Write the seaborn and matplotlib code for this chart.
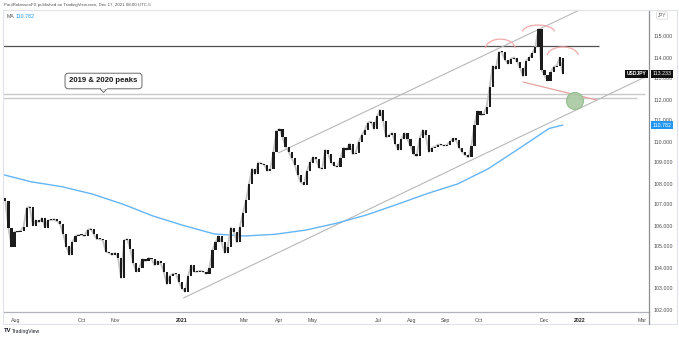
import numpy as np
import pandas as pd
import matplotlib
matplotlib.use("Agg")
import matplotlib.pyplot as plt
import seaborn as sns
from matplotlib.patches import Ellipse, Rectangle, Polygon
from matplotlib.lines import Line2D

# ---------------- data ----------------
start_date = "2020-07-20"
# closes of consecutive 2-trading-day candles (first candle = 3rd trading day)
closes = [
    107.15, 105.9, 105.0, 105.7, 105.7, 105.75, 105.95, 106.85, 106.9, 106.0,
    106.25, 106.15, 106.35, 105.9, 106.25, 106.25, 106.3, 106.2, 106.05, 105.6,
    105.0, 104.6, 105.2, 105.5, 105.55, 105.55, 105.5, 105.8, 105.85, 105.6,
    105.35, 105.35, 105.3, 104.75, 104.7, 104.6, 104.7, 104.45, 103.5, 105.3,
    105.35, 104.9, 104.2, 103.8, 104.0, 104.4, 104.3, 104.45, 104.4, 104.1,
    104.3, 104.2, 103.8, 103.2, 103.6, 103.7, 103.7, 103.3, 103.0, 102.85,
    103.6, 104.1, 103.8, 103.8, 103.85, 103.8, 103.7, 104.0, 104.85, 105.2,
    105.5, 105.2, 104.7, 105.0, 105.9, 105.7, 105.2, 105.95, 106.6, 107.2,
    108.0, 108.7, 108.45, 109.0, 108.95, 108.9, 108.6, 108.7, 109.5, 110.5,
    110.6, 110.2, 109.75, 109.5, 109.2, 108.9, 108.4, 108.05, 107.95, 108.6,
    109.0, 109.25, 109.15, 108.75, 108.7, 109.6, 109.4, 109.0, 108.85, 108.8,
    109.2, 109.7, 109.6, 109.9, 109.4, 109.45, 110.0, 110.3, 110.55, 110.9,
    110.95, 110.6, 111.2, 111.5, 111.0, 110.2, 110.3, 110.4, 109.9, 109.6,
    110.1, 110.4, 110.1, 109.8, 109.4, 109.3, 110.15, 110.55, 110.3, 109.5,
    109.7, 109.75, 109.85, 109.85, 109.8, 109.85, 110.0, 110.15, 110.05, 109.7,
    109.5, 109.35, 109.25, 109.8, 110.8, 111.45, 111.25, 111.3, 111.65, 112.6,
    113.6, 113.45, 114.25, 114.25, 113.9, 113.7, 113.95, 114.0, 113.8, 113.5,
    113.1, 113.85, 114.0, 114.2, 114.5, 115.35, 113.4, 113.15, 112.9, 113.3,
    113.55, 113.6, 114.0, 113.233,
]
first_open = 107.3

# 200-day moving average sampled every 20 trading days (last = final day)
ma_day = [0, 20, 40, 60, 80, 100, 120, 140, 160, 180, 200, 220, 240, 260,
          280, 300, 320, 340, 360, 369]
ma_values = [108.45, 108.08, 107.85, 107.5, 107.02, 106.45, 106.0, 105.6,
             105.5, 105.58, 105.78, 106.1, 106.5, 107.0, 107.52, 107.98,
             108.7, 109.65, 110.62, 110.782]

resistance_level = 114.55
resistance_end = "2022-01-20"
peak_levels = [112.25, 112.07]
peak_line_end = ["2022-03-03", "2022-02-24"]
# drawn lines: (date, price)
lower_channel = [("2021-01-04", 102.55), ("2022-03-03", 113.07)]
upper_channel = [("2021-03-31", 109.45), ("2022-03-03", 117.74)]
support_line = [("2021-11-11", 112.83), ("2022-01-18", 111.98)]
circle_pt = ("2021-12-29", 111.93)
# arcs: (centre date, centre price, width in days, height in price)
arcs = [("2021-10-21", 114.40, 19.7, 0.95),
        ("2021-11-25", 115.21, 21.0, 0.67),
        ("2021-12-17", 114.07, 20.4, 0.86)]

month_ticks = ["2020-08-01", "2020-10-01", "2020-11-01", "2021-01-01", "2021-03-01",
               "2021-04-01", "2021-05-01", "2021-07-01", "2021-08-01", "2021-09-01",
               "2021-10-01", "2021-12-01", "2022-01-01", "2022-03-01"]
month_labels = ["Aug", "Oct", "Nov", "2021", "Mar", "Apr", "May", "Jul", "Aug",
                "Sep", "Oct", "Dec", "2022", "Mar"]
price_ticks = list(range(102, 116))

# ---------------- helpers ----------------
days = pd.bdate_range(start_date, periods=440)


def day_idx(d):
    return int(np.searchsorted(days, pd.Timestamp(d)))


sns.set_style("white")
plt.rcParams["font.family"] = ["Liberation Sans", "DejaVu Sans"]

W, H = 679, 337
fig = plt.figure(figsize=(W / 100, H / 100), dpi=100)
L, R, T, B = 3, 649, 11, 312
ax = fig.add_axes([L / W, 1 - B / H, (R - L) / W, (B - T) / H])

PX_PER_DAY = 1.523
X0 = 0.8
PX_PER_UNIT = 21.0
ax.set_xlim((L - X0) / PX_PER_DAY, (R - X0) / PX_PER_DAY)
ax.set_ylim(115 - (B - 36.5) / PX_PER_UNIT, 115 + (36.5 - T) / PX_PER_UNIT)

# ---------------- candles ----------------
n = len(closes)
cx = np.arange(n) * 2 + 3
opens = np.array([first_open] + closes[:-1])
cl = np.array(closes)
bottoms = np.minimum(opens, cl)
heights = np.maximum(np.abs(cl - opens), 0.05)
df = pd.DataFrame({"x": cx, "bottom": bottoms, "height": heights, "close": cl})
# faint wick-like trace behind the bodies
sns.lineplot(data=df, x="x", y="close", ax=ax, color="#c2c2c2", lw=1.3, zorder=3.5)
ax.bar(df["x"], df["height"], bottom=df["bottom"], width=1.45,
       color="#1c1c1c", linewidth=0, zorder=4)

# ---------------- moving average ----------------
sns.lineplot(x=ma_day, y=ma_values, ax=ax, color="#64b5f6", lw=1.0, zorder=3)

# ---------------- drawings ----------------
xmin = ax.get_xlim()[0]
ax.hlines(resistance_level, xmin, day_idx(resistance_end), color="#505050", lw=0.9, zorder=2)
for lvl, e in zip(peak_levels, peak_line_end):
    ax.hlines(lvl, xmin, day_idx(e), color="#c9c9c9", lw=1.0, zorder=2)

for line in (lower_channel, upper_channel):
    ax.plot([day_idx(line[0][0]), day_idx(line[1][0])], [line[0][1], line[1][1]],
            color="#b8b8b8", lw=0.8, zorder=2)
ax.plot([day_idx(support_line[0][0]), day_idx(support_line[1][0])],
        [support_line[0][1], support_line[1][1]], color="#e8a0a0", lw=0.9, zorder=2)

t = np.linspace(np.radians(8), np.radians(172), 60)
for d, p, w, h in arcs:
    ax.plot(day_idx(d) + w / 2 * np.cos(t), p + h / 2 * np.sin(t),
            color="#f2a9a9", lw=0.9, zorder=5)

ax.add_patch(Ellipse((day_idx(circle_pt[0]), circle_pt[1]), 11.2, 0.81,
                     facecolor="#a9c9a2", edgecolor="#8fbb88", lw=0.8, alpha=0.9, zorder=6))

# callout
cxp = (103.5 - X0) / PX_PER_DAY
cyp = 115 - (81 - 36.5) / PX_PER_UNIT
ax.text(cxp, cyp, "2019 & 2020 peaks", ha="center", va="center", fontsize=5.6,
        fontweight="bold", color="#1a1a1a", zorder=8,
        bbox=dict(boxstyle="round,pad=0.55,rounding_size=0.4", fc="white", ec="#6a6a6a", lw=0.7))
tri_y_top = 115 - (88.8 - 36.5) / PX_PER_UNIT
tri_y_bot = 115 - (92.5 - 36.5) / PX_PER_UNIT
ax.add_patch(Polygon([[cxp - 2.2, tri_y_top], [cxp + 2.2, tri_y_top], [cxp, tri_y_bot]],
                     closed=True, facecolor="white", edgecolor="#6a6a6a", lw=0.7, zorder=9))
ax.plot([cxp - 1.9, cxp + 1.9], [tri_y_top + 0.02, tri_y_top + 0.02], color="white", lw=1.0, zorder=10)

# ---------------- axes styling ----------------
for s in ["top", "left"]:
    ax.spines[s].set_visible(False)
ax.spines["right"].set_color("#8c8f96")
ax.spines["bottom"].set_color("#b0b3ba")
ax.spines["right"].set_linewidth(0.9)
ax.spines["bottom"].set_linewidth(0.9)
ax.yaxis.tick_right()
ax.set_yticks(price_ticks)
ax.set_yticklabels([f"{v:.3f}" for v in price_ticks])
ax.tick_params(axis="y", length=0, pad=3.2, labelsize=3.8, labelcolor="#4a4a4a")
ax.set_xticks([day_idx(d) for d in month_ticks])
ax.set_xticklabels(month_labels)
ax.tick_params(axis="x", length=0, pad=4.2, labelsize=3.8, labelcolor="#4a4a4a")
for lbl in ax.get_xticklabels():
    if lbl.get_text() in ("2021", "2022"):
        lbl.set_fontweight("bold")
        lbl.set_color("#222222")
ax.set_xlabel("")
ax.set_ylabel("")
ax.grid(False)

# price labels on the scale
ytr = ax.get_yaxis_transform()
ax.text(1 + 13 / (R - L), closes[-1], f"{closes[-1]:.3f}", transform=ytr, ha="center", va="center",
        fontsize=3.8, color="white", zorder=12, clip_on=False,
        bbox=dict(boxstyle="square,pad=0.3", fc="#111111", ec="none"))
ax.text(1 - 12.5 / (R - L), closes[-1], "USDJPY", transform=ytr, ha="center", va="center",
        fontsize=3.6, color="white", zorder=12, clip_on=False, fontweight="bold",
        bbox=dict(boxstyle="square,pad=0.3", fc="#111111", ec="none"))
ax.text(1 + 13 / (R - L), ma_values[-1], f"{ma_values[-1]:.3f}", transform=ytr, ha="center",
        va="center", fontsize=3.8, color="white", zorder=12, clip_on=False,
        bbox=dict(boxstyle="square,pad=0.3", fc="#2196f3", ec="none"))

# ---------------- frame & texts ----------------
fig.add_artist(Rectangle((2.5 / W, 1 - 324 / H), (677 - 2.5) / W, (324 - 10) / H,
                         transform=fig.transFigure, fill=False, ec="#e0e3eb", lw=0.8))
fig.add_artist(Line2D([R / W, R / W], [1 - 324 / H, 1 - B / H], transform=fig.transFigure,
                      color="#8c8f96", lw=0.9))
fig.text(4 / W, 1 - 5 / H, "PaulRobinsonFX published on TradingView.com, Dec 17, 2021 08:00 UTC-5",
         fontsize=3.2, color="#555555", va="center", ha="left")
fig.text(7 / W, 1 - 16 / H, "MA", fontsize=3.8, color="#555555", va="center", ha="left")
fig.text(15.5 / W, 1 - 16 / H, f"{ma_values[-1]:.3f}", fontsize=3.8, color="#2196f3",
         va="center", ha="left")
fig.text(662 / W, 1 - 15.5 / H, "JPY", fontsize=3.3, color="#555555", va="center", ha="center",
         bbox=dict(boxstyle="round,pad=0.25", fc="white", ec="#cccccc", lw=0.4))
fig.text(4 / W, 1 - 331 / H, "TV", fontsize=4.2, fontweight="bold", color="#131722",
         va="center", ha="left")
fig.text(12 / W, 1 - 331 / H, "TradingView", fontsize=3.6, color="#131722",
         va="center", ha="left")

fig.savefig("out.png", dpi=100, facecolor="white")
